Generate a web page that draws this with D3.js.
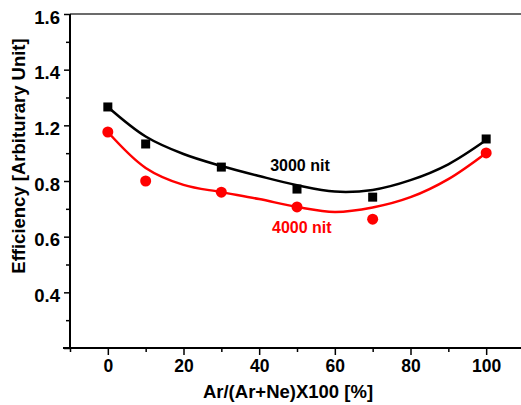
<!DOCTYPE html>
<html>
<head>
<meta charset="utf-8">
<script src="https://cdn.jsdelivr.net/npm/d3@7"></script>
<style>
  body { margin: 0; background: #fff; }
  text { font-family: Arial, "Liberation Sans", sans-serif; font-weight: bold; }
</style>
</head>
<body>
<svg id="chart" width="521" height="405"></svg>
<script>
// measured points (x = Ar percentage)
var ratio = [0, 10, 30, 50, 70, 100];
var eff3000 = [1.266, 1.133, 1.050, 0.971, 0.942, 1.151];
var eff4000 = [1.176, 1.000, 0.960, 0.907, 0.863, 1.101];

// fitted curves
var fitX = [0, 10, 20, 30, 40, 50, 60, 70, 80, 90, 100];
var fit3000 = [1.266, 1.160, 1.097, 1.054, 1.018, 0.985, 0.962, 0.968, 1.003, 1.060, 1.147];
var fit4000 = [1.176, 1.047, 0.986, 0.960, 0.935, 0.907, 0.889, 0.905, 0.942, 1.007, 1.101];

// y ticks: positions and the labels printed on the original
var yTickValues = [0.4, 0.6, 0.8, 1.0, 1.2, 1.4, 1.6];
var yTickLabels = ["", "0.4", "0.6", "0.8", "1.2", "1.4", "1.6"];
var xTickValues = [0, 20, 40, 60, 80, 100];

var seriesNames = ["3000 nit", "4000 nit"];
var labelPos = [[42.9, 1.036], [43.4, 0.813]];

var svg = d3.select('#chart');
var W = 521, H = 405;
var padLeft = 70, padTop = 14, padBottom = 348;

var x = d3.scaleLinear().domain([-10, 110]).range([padLeft, 524]);
var y = d3.scaleLinear().domain([0.4, 1.6]).range([padBottom, padTop]);

/*
 * frame line on top
 */
svg.append('line')
    .attr('x1', padLeft).attr('x2', W)
    .attr('y1', padTop).attr('y2', padTop)
    .attr('stroke', '#6b6b6b').attr('stroke-width', 2);

/*
 * x axis
 */
var xAxis = svg.append('g').attr('transform', 'translate(0,' + padBottom + ')');
xAxis.append('g').call(d3.axisBottom(x).tickValues(d3.range(-10, 111, 20)).tickSize(4).tickFormat(''))
    .call(g => g.select('.domain').remove())
    .call(g => g.selectAll('.tick line').attr('stroke', '#000').attr('stroke-width', 1.5));
xAxis.append('g').call(d3.axisBottom(x).tickValues(xTickValues).tickSize(7).tickPadding(5).tickFormat(d3.format('d')))
    .call(g => g.select('.domain').remove())
    .call(g => g.selectAll('.tick line').attr('stroke', '#000').attr('stroke-width', 1.5))
    .call(g => g.selectAll('.tick text').attr('font-size', 17.5).attr('fill', '#000'));
xAxis.append('line')
    .attr('x1', padLeft - 7).attr('x2', W)
    .attr('stroke', '#000').attr('stroke-width', 2);

/*
 * y axis
 */
var yAxis = svg.append('g').attr('transform', 'translate(' + padLeft + ',0)');
yAxis.append('g').call(d3.axisLeft(y).tickValues(d3.range(0.5, 1.6, 0.2)).tickSize(4).tickFormat(''))
    .call(g => g.select('.domain').remove())
    .call(g => g.selectAll('.tick line').attr('stroke', '#000').attr('stroke-width', 1.5));
yAxis.append('g').call(d3.axisLeft(y).tickValues(yTickValues).tickSize(6).tickPadding(4)
        .tickFormat((d, i) => yTickLabels[i]))
    .call(g => g.select('.domain').remove())
    .call(g => g.selectAll('.tick line').attr('stroke', '#000').attr('stroke-width', 1.5))
    .call(g => g.selectAll('.tick text').attr('font-size', 18.5).attr('fill', '#000').attr('dy', '0.5em'));
yAxis.append('line')
    .attr('y1', padTop).attr('y2', padBottom)
    .attr('stroke', '#000').attr('stroke-width', 2);

/*
 * axis titles
 */
svg.append('text')
    .attr('x', 288).attr('y', 398)
    .attr('text-anchor', 'middle')
    .attr('font-size', 18.5)
    .text('Ar/(Ar+Ne)X100 [%]');

svg.append('text')
    .attr('transform', 'translate(25,156) rotate(-90)')
    .attr('text-anchor', 'middle')
    .attr('font-size', 18.5)
    .text('Efficiency [Arbiturary Unit]');

/*
 * curves and points
 */
var line = d3.line()
    .x(d => x(d[0]))
    .y(d => y(d[1]))
    .curve(d3.curveCatmullRom.alpha(0.5));

var colors = ['#000000', '#ff0000'];
[fit3000, fit4000].forEach(function(fit, k) {
    svg.append('path')
        .datum(fitX.map((v, i) => [v, fit[i]]))
        .attr('d', line)
        .attr('fill', 'none')
        .attr('stroke', colors[k])
        .attr('stroke-width', 2.5);
});

svg.append('g').selectAll('rect')
    .data(ratio.map((v, i) => [v, eff3000[i]]))
    .join('rect')
    .attr('x', d => x(d[0]) - 4.5)
    .attr('y', d => y(d[1]) - 4.5)
    .attr('width', 9).attr('height', 9)
    .attr('fill', '#000');

svg.append('g').selectAll('circle')
    .data(ratio.map((v, i) => [v, eff4000[i]]))
    .join('circle')
    .attr('cx', d => x(d[0]))
    .attr('cy', d => y(d[1]))
    .attr('r', 5.5)
    .attr('fill', '#ff0000');

/*
 * series labels
 */
seriesNames.forEach(function(name, k) {
    svg.append('text')
        .attr('x', x(labelPos[k][0]))
        .attr('y', y(labelPos[k][1]))
        .attr('font-size', 16)
        .attr('fill', colors[k])
        .text(name);
});
</script>
</body>
</html>
